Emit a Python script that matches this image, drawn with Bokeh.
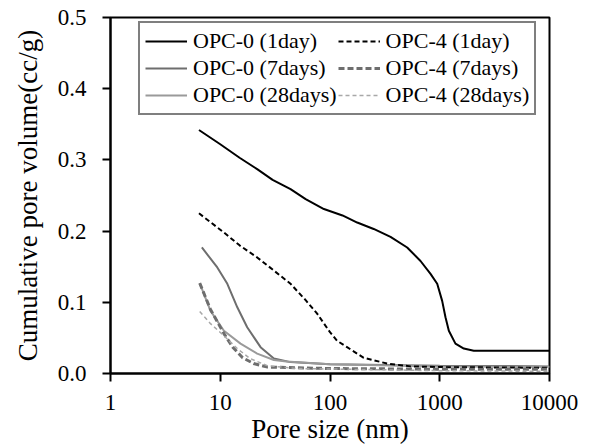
from bokeh.plotting import figure
from bokeh.models import Legend, LegendItem, FixedTicker, Range1d
from bokeh.embed import file_html
from bokeh.resources import INLINE

# ---- data ----
x_ticks = [1, 10, 100, 1000, 10000]
x_tick_labels = ["1", "10", "100", "1000", "10000"]
y_ticks = [0.0, 0.1, 0.2, 0.3, 0.4, 0.5]
y_tick_labels = ["0.0", "0.1", "0.2", "0.3", "0.4", "0.5"]

opc0_1d_x = [6.4, 10, 15, 21.7, 30, 43.7, 60, 88, 130, 177, 250, 356, 505, 668, 824, 948, 1052, 1128, 1210, 1390, 1657, 2042, 10000]
opc0_1d_y = [0.342, 0.322, 0.303, 0.287, 0.272, 0.259, 0.245, 0.231, 0.222, 0.212, 0.203, 0.192, 0.177, 0.158, 0.140, 0.126, 0.102, 0.079, 0.060, 0.042, 0.035, 0.032, 0.032]

opc4_1d_x = [6.4, 10.8, 15, 21.7, 30, 43.7, 60, 76.4, 100, 116, 143, 203, 331, 540, 1000, 10000]
opc4_1d_y = [0.225, 0.198, 0.180, 0.163, 0.146, 0.126, 0.103, 0.084, 0.058, 0.046, 0.037, 0.022, 0.014, 0.010, 0.009, 0.008]

opc0_7d_x = [6.8, 9.4, 11.6, 14.3, 17.6, 23.3, 30.8, 43.7, 100, 1000, 10000]
opc0_7d_y = [0.177, 0.149, 0.126, 0.093, 0.065, 0.037, 0.021, 0.016, 0.013, 0.011, 0.010]

opc0_28d_x = [6.5, 8.15, 10.8, 15.3, 21.7, 30.8, 40, 100, 1000, 10000]
opc0_28d_y = [0.127, 0.088, 0.060, 0.042, 0.028, 0.019, 0.017, 0.013, 0.010, 0.009]

opc4_7d_x = [6.5, 8.15, 10.8, 13, 16, 20.5, 27, 100, 1000, 10000]
opc4_7d_y = [0.127, 0.090, 0.056, 0.037, 0.022, 0.0136, 0.009, 0.007, 0.006, 0.006]

opc4_28d_x = [6.5, 8.15, 10.8, 14.3, 18.7, 26.8, 50, 1000, 10000]
opc4_28d_y = [0.087, 0.070, 0.053, 0.035, 0.021, 0.011, 0.007, 0.004, 0.003]

FONT = "'Liberation Serif', 'Times New Roman', serif"

p = figure(width=593, height=446, x_axis_type="log",
           x_range=Range1d(1, 10000), y_range=Range1d(0, 0.5),
           output_backend="svg", toolbar_location=None,
           min_border_left=110, min_border_right=44,
           min_border_top=17, min_border_bottom=73)
p.xgrid.visible = False
p.ygrid.visible = False
p.outline_line_color = "black"
p.outline_line_width = 2
p.background_fill_color = "white"
p.border_fill_color = "white"

r1 = p.line(opc0_1d_x, opc0_1d_y, line_color="black", line_width=2)
r2 = p.line(opc0_7d_x, opc0_7d_y, line_color="#6e6e6e", line_width=2)
r3 = p.line(opc0_28d_x, opc0_28d_y, line_color="#9a9a9a", line_width=2)
r4 = p.line(opc4_1d_x, opc4_1d_y, line_color="black", line_width=2, line_dash="5 3")
r5 = p.line(opc4_7d_x, opc4_7d_y, line_color="#6e6e6e", line_width=3, line_dash="6 3")
r6 = p.line(opc4_28d_x, opc4_28d_y, line_color="#a8a8a8", line_width=1.5, line_dash="4 3")

# axes
for ax in (p.xaxis[0], p.yaxis[0]):
    ax.axis_line_color = "black"
    ax.axis_line_width = 2
    ax.major_tick_line_color = "black"
    ax.major_tick_line_width = 2
    ax.major_tick_in = 0
    ax.major_tick_out = 8
    ax.minor_tick_line_color = None
    ax.major_label_text_font = FONT
    ax.major_label_text_font_size = "23px"
    ax.major_label_text_color = "black"
    ax.axis_label_text_font = FONT
    ax.axis_label_text_font_size = "27px"
    ax.axis_label_text_font_style = "normal"
    ax.axis_label_text_color = "black"

p.xaxis.ticker = FixedTicker(ticks=x_ticks)
p.xaxis.major_label_overrides = {t: l for t, l in zip(x_ticks, x_tick_labels)}
p.xaxis.major_label_standoff = 13
p.xaxis.axis_label = "Pore size (nm)"
p.xaxis.axis_label_standoff = 1

p.yaxis.ticker = FixedTicker(ticks=y_ticks)
p.yaxis.major_label_overrides = {t: l for t, l in zip(y_ticks, y_tick_labels)}
p.yaxis.major_label_standoff = 16
p.yaxis.axis_label = "Cumulative pore volume(cc/g)"
p.yaxis.axis_label_standoff = 12

legend = Legend(items=[
    LegendItem(label="OPC-0 (1day)", renderers=[r1]),
    LegendItem(label="OPC-0 (7days)", renderers=[r2]),
    LegendItem(label="OPC-0 (28days)", renderers=[r3]),
    LegendItem(label="OPC-4 (1day)", renderers=[r4]),
    LegendItem(label="OPC-4 (7days)", renderers=[r5]),
    LegendItem(label="OPC-4 (28days)", renderers=[r6]),
], location=(28, 258), orientation="vertical", nrows=3)
legend.label_text_font = FONT
legend.label_text_font_size = "22px"
legend.label_text_color = "black"
legend.glyph_width = 42
legend.label_standoff = 6
legend.padding = 5
legend.spacing = 1
legend.margin = 0
legend.border_line_color = "black"
legend.border_line_width = 2
legend.background_fill_color = "white"
legend.background_fill_alpha = 1
p.add_layout(legend, "center")

open("out.html", "w").write(file_html(p, INLINE))
